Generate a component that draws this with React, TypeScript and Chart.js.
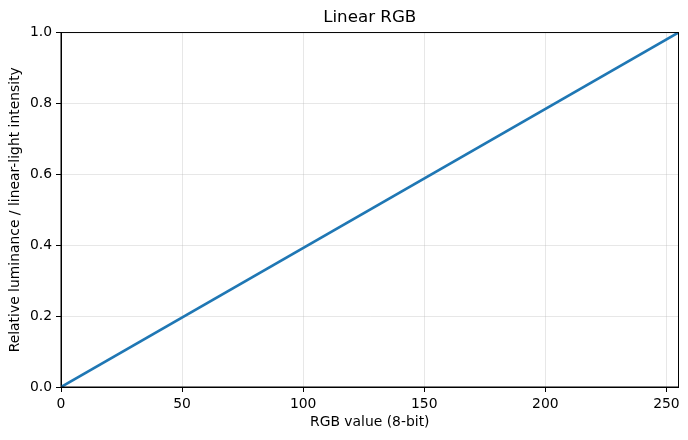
import { useEffect, useRef } from "react";
import { Chart, registerables } from "chart.js";

Chart.register(...registerables);

const rgbValues = [0, 255];
const luminance = [0, 1];
const xTickValues = [0, 50, 100, 150, 200, 250];
const yTickValues = [0, 0.2, 0.4, 0.6, 0.8, 1.0];
const titleText = "Linear RGB";
const xLabel = "RGB value (8-bit)";
const yLabel = "Relative luminance / linear-light intensity";

const FONT = "'DejaVu Sans', sans-serif";

const spinePlugin = {
  id: "spines",
  afterDatasetsDraw(chart: any) {
    const { ctx, chartArea } = chart;
    ctx.save();
    ctx.strokeStyle = "#000";
    ctx.lineWidth = 1;
    ctx.strokeRect(chartArea.left, chartArea.top, chartArea.right - chartArea.left, chartArea.bottom - chartArea.top);
    ctx.restore();
  },
};

export default function App() {
  const ref = useRef<HTMLCanvasElement | null>(null);
  useEffect(() => {
    document.body.style.margin = "0";
    if (!ref.current) return;
    const chart = new Chart(ref.current, {
      type: "line",
      data: {
        datasets: [
          {
            data: rgbValues.map((x, i) => ({ x, y: luminance[i] })),
            borderColor: "#1f77b4",
            backgroundColor: "#1f77b4",
            borderWidth: 2.7,
            pointRadius: 0,
            tension: 0,
            clip: 0,
          },
        ],
      },
      options: {
        animation: false,
        responsive: true,
        maintainAspectRatio: false,
        devicePixelRatio: 1,
        layout: { padding: { left: 0, right: 9.5, top: 0, bottom: 0 } },
        plugins: {
          legend: { display: false },
          tooltip: { enabled: false },
          title: {
            display: true,
            fullSize: false,
            text: titleText,
            color: "#000",
            font: { family: FONT, size: 16.7, weight: "normal" },
            padding: { top: 8, bottom: 4.5 },
          },
        },
        scales: {
          x: {
            type: "linear",
            min: 0,
            max: 255,
            afterBuildTicks: (scale: any) => {
              scale.ticks = xTickValues.map((v) => ({ value: v }));
            },
            afterFit: (scale: any) => {
              scale.height = 53;
            },
            grid: {
              color: "rgba(176,176,176,0.3)",
              tickColor: "#000",
              tickLength: 5,
              lineWidth: 1,
            },
            border: { color: "#000", width: 1 },
            ticks: {
              color: "#000",
              font: { family: FONT, size: 13.9 },
              padding: 4,
              autoSkip: false,
              maxRotation: 0,
              callback: (v: any) => String(v),
            },
            title: {
              display: true,
              text: xLabel,
              color: "#000",
              font: { family: FONT, size: 13.9 },
              padding: { top: 0, bottom: 9.5 },
            },
          },
          y: {
            type: "linear",
            min: 0,
            max: 1,
            afterBuildTicks: (scale: any) => {
              scale.ticks = yTickValues.map((v) => ({ value: v }));
            },
            afterFit: (scale: any) => {
              scale.width = 61;
            },
            grid: {
              color: "rgba(176,176,176,0.3)",
              tickColor: "#000",
              tickLength: 5,
              lineWidth: 1,
            },
            border: { color: "#000", width: 1 },
            ticks: {
              color: "#000",
              font: { family: FONT, size: 13.9 },
              padding: 4,
              autoSkip: false,
              callback: (v: any) => Number(v).toFixed(1),
            },
            title: {
              display: true,
              text: yLabel,
              color: "#000",
              font: { family: FONT, size: 13.9 },
              padding: { top: 7.5, bottom: 0 },
            },
          },
        },
      },
      plugins: [spinePlugin],
    });
    return () => chart.destroy();
  }, []);
  return (
    <div style={{ width: 688, height: 440, position: "relative" }}>
      <canvas ref={ref} />
    </div>
  );
}
